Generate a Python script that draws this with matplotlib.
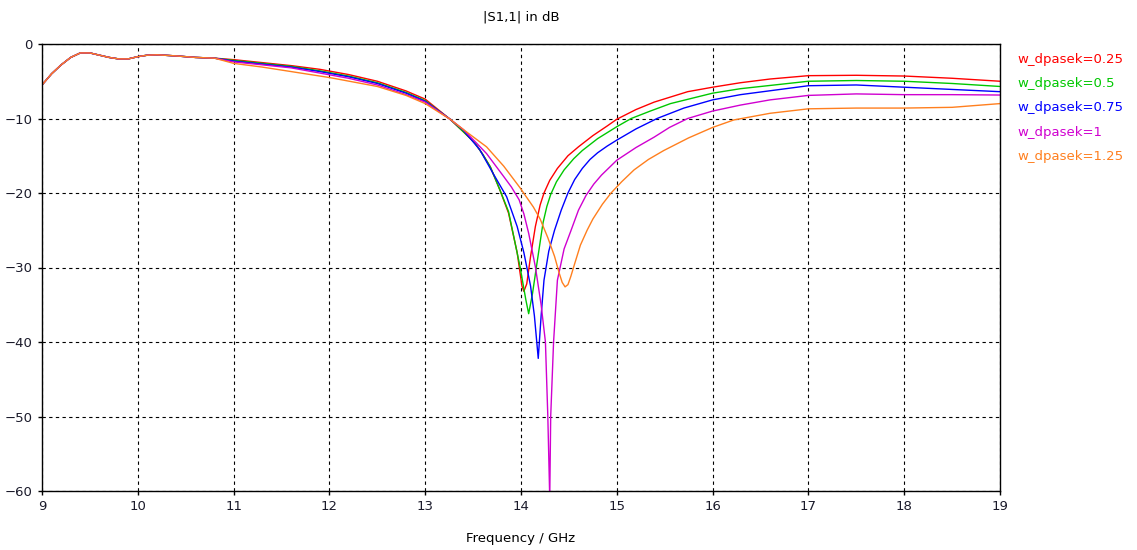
import matplotlib
matplotlib.use("Agg")
import matplotlib.pyplot as plt

plt.rcParams['font.family'] = ['DejaVu Sans']

# ---- data ----
labels = ["w_dpasek=0.25", "w_dpasek=0.5", "w_dpasek=0.75", "w_dpasek=1", "w_dpasek=1.25"]
colors = ["#ff0000", "#00c800", "#0000ff", "#d000d0", "#ff7f1e"]

common_f = [9.0, 9.1, 9.2, 9.3, 9.4, 9.5, 9.6, 9.7, 9.8, 9.9, 10.0, 10.1, 10.2, 10.4, 10.6, 10.8]
common_s = [-5.5, -4.0, -2.8, -1.8, -1.2, -1.2, -1.5, -1.8, -2.0, -2.0, -1.7, -1.5, -1.45, -1.6, -1.8, -1.9]

f_025 = common_f + [11.0, 11.3, 11.6, 11.9, 12.2, 12.5, 12.8, 13.0, 13.26, 13.4, 13.52, 13.6, 13.68, 13.78,
                    13.87, 13.96, 14.01, 14.03, 14.06, 14.10, 14.15, 14.20, 14.24, 14.30, 14.38, 14.49, 14.6,
                    14.75, 14.9, 15.0, 15.2, 15.39, 15.74, 16.0, 16.29, 16.6, 17.0, 17.5, 18.0, 18.5, 19.0]
s_025 = common_s + [-2.1, -2.5, -2.9, -3.4, -4.1, -5.0, -6.3, -7.4, -10.1, -11.8, -13.3, -14.8, -16.5, -19.6,
                    -22.7, -28.0, -32.5, -33.2, -32.2, -28.5, -24.5, -21.6, -20.0, -18.3, -16.7, -15.0, -13.8,
                    -12.3, -11.0, -10.1, -8.8, -7.8, -6.4, -5.8, -5.2, -4.7, -4.25, -4.2, -4.3, -4.6, -5.0]

f_05 = common_f + [11.0, 11.3, 11.6, 11.9, 12.2, 12.5, 12.8, 13.0, 13.26, 13.4, 13.52, 13.6, 13.68, 13.78,
                   13.87, 13.99, 14.05, 14.08, 14.12, 14.16, 14.23, 14.27, 14.31, 14.37, 14.45, 14.55, 14.64,
                   14.8, 15.0, 15.15, 15.35, 15.56, 16.0, 16.29, 17.0, 17.5, 18.0, 18.5, 19.0]
s_05 = common_s + [-2.2, -2.6, -3.0, -3.6, -4.3, -5.2, -6.5, -7.6, -10.1, -11.8, -13.3, -14.8, -16.5, -19.6,
                   -22.5, -29.9, -34.3, -36.2, -33.5, -30.0, -24.0, -21.8, -20.2, -18.5, -16.9, -15.4, -14.3,
                   -12.7, -11.1, -10.0, -9.0, -8.0, -6.6, -6.0, -5.0, -4.9, -5.0, -5.3, -5.7]

f_075 = common_f + [11.0, 11.3, 11.6, 11.9, 12.2, 12.5, 12.8, 13.0, 13.26, 13.4, 13.57, 13.71, 13.85, 13.96,
                    14.03, 14.10, 14.14, 14.18, 14.21, 14.24, 14.29, 14.35, 14.42, 14.49, 14.56, 14.64, 14.72,
                    14.8, 14.9, 15.0, 15.2, 15.42, 15.7, 16.0, 16.29, 17.0, 17.5, 18.0, 18.5, 19.0]
s_075 = common_s + [-2.3, -2.7, -3.1, -3.7, -4.4, -5.3, -6.6, -7.7, -10.1, -11.6, -14.2, -17.4, -20.5, -24.5,
                    -28.0, -32.5, -36.5, -42.2, -36.5, -31.7, -27.8, -25.0, -22.3, -20.0, -18.2, -16.7, -15.5,
                    -14.6, -13.7, -12.9, -11.4, -10.0, -8.6, -7.5, -6.8, -5.6, -5.5, -5.8, -6.1, -6.4]

f_1 = common_f + [11.0, 11.3, 11.6, 11.9, 12.2, 12.5, 12.8, 13.0, 13.26, 13.4, 13.64, 13.82, 13.9, 13.98,
                  14.03, 14.08, 14.15, 14.21, 14.255, 14.28, 14.30, 14.31, 14.34, 14.38, 14.45, 14.52, 14.6,
                  14.68, 14.76, 14.84, 15.0, 15.2, 15.39, 15.55, 15.74, 16.0, 16.29, 16.6, 17.0, 17.5, 18.0,
                  18.5, 19.0]
s_1 = common_s + [-2.4, -2.8, -3.2, -3.9, -4.6, -5.5, -6.8, -7.8, -10.1, -11.5, -14.7, -17.8, -19.2, -20.9,
                  -22.8, -25.4, -29.9, -35.0, -40.0, -50.0, -61.0, -50.0, -40.0, -31.7, -27.5, -25.1, -22.3,
                  -20.3, -18.8, -17.6, -15.6, -13.9, -12.5, -11.2, -10.0, -9.0, -8.2, -7.5, -6.9, -6.7, -6.8,
                  -6.8, -6.85]

f_125 = common_f + [11.0, 11.3, 11.7, 12.0, 12.5, 12.8, 13.0, 13.26, 13.4, 13.64, 13.82, 13.99, 14.13, 14.2,
                    14.28, 14.35, 14.40, 14.43, 14.46, 14.49, 14.52, 14.56, 14.62, 14.69, 14.75, 14.85, 14.94,
                    15.05, 15.18, 15.33, 15.49, 15.75, 16.0, 16.22, 16.6, 17.0, 17.5, 18.0, 18.5, 19.0]
s_125 = common_s + [-2.6, -3.1, -3.9, -4.5, -5.7, -6.9, -8.0, -10.1, -11.5, -13.8, -16.4, -19.3, -21.9, -23.5,
                    -26.0, -28.5, -30.8, -32.0, -32.6, -32.3, -31.2, -29.5, -27.0, -25.0, -23.5, -21.5, -20.0,
                    -18.5, -16.9, -15.5, -14.3, -12.6, -11.2, -10.2, -9.3, -8.7, -8.6, -8.6, -8.5, -8.0]

freqs = [f_025, f_05, f_075, f_1, f_125]
series = [s_025, s_05, s_075, s_1, s_125]

x_ticks = list(range(9, 20))
y_ticks = [0, -10, -20, -30, -40, -50, -60]

# ---- plot ----
fig = plt.figure(figsize=(11.37, 5.5), dpi=100)
ax = fig.add_axes([42 / 1137, 1 - 491 / 550, (1000 - 42) / 1137, (491 - 44) / 550])

for f, s, c in zip(freqs, series, colors):
    ax.plot(f, s, color=c, lw=1.0)

ax.set_xlim(9, 19)
ax.set_ylim(-60, 0)
ax.set_xticks(x_ticks)
ax.set_yticks(y_ticks)
ax.grid(True, color='black', linestyle=(0, (3, 3)), linewidth=0.8)
ax.tick_params(direction='out', length=3, width=1, labelsize=9.5, colors='black', labelcolor='#1a1a2a')
for sp in ax.spines.values():
    sp.set_linewidth(1.0)
    sp.set_color('black')

ax.set_title("|S1,1| in dB", fontsize=9.5, pad=17)
ax.set_xlabel("Frequency / GHz", fontsize=9.5, labelpad=14)

for i, (lab, c) in enumerate(zip(labels, colors)):
    fig.text(1017 / 1137, 1 - (59 + i * 24.4) / 550, lab, color=c, fontsize=9.5, va='center', ha='left')

fig.savefig("out.png", dpi=100)
